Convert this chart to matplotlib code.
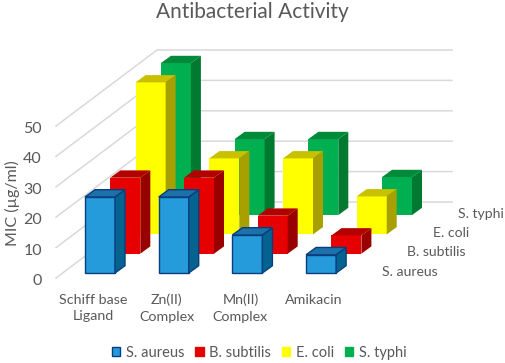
import matplotlib
matplotlib.use('Agg')
import matplotlib.pyplot as plt
from matplotlib.patches import Polygon, Patch

plt.rcParams['font.family'] = ['Lato', 'DejaVu Sans']

categories = ['Schiff base\nLigand', 'Zn(II)\nComplex', 'Mn(II)\nComplex', 'Amikacin']
series_names = ['S. aureus', 'B. subtilis', 'E. coli', 'S. typhi']
s_aureus = [25, 25, 12.5, 6]
b_subtilis = [25, 25, 12.5, 6]
e_coli = [50, 25, 25, 12.5]
s_typhi = [50, 25, 25, 12.5]
value_ticks = [0, 10, 20, 30, 40, 50]

# front, side, top colours per series
BAR_COLORS = [
    ('#259BDB', '#05648F', '#1C72A8'),
    ('#E60000', '#990000', '#B30000'),
    ('#FFFF00', '#A8A000', '#C9C000'),
    ('#00B050', '#007A30', '#008A3A'),
]
TEXT_COLOR = '#595959'
GRID_COLOR = '#D9D9D9'
BLUE_EDGE = '#0A3D80'

# oblique layout, x in category steps and y in MIC units
W, H = 505, 363
CAT_PX = 73.7
VAL_PX = 3.04
X0_PX = 85
Y0_PX = 273
BAR_W = 30 / CAT_PX
DEPTH_X = 10 / CAT_PX
DEPTH_Y = 7.3 / VAL_PX
STEP_X = 25.3 / CAT_PX
STEP_Y = 19.3 / VAL_PX


def draw_bar(ax, x, base, value, colors, edge):
    front, side, top = colors
    kw = dict(closed=True, linewidth=1.0 if edge else 0, edgecolor=edge if edge else 'none')
    ax.add_patch(Polygon([(x, base), (x + BAR_W, base), (x + BAR_W, base + value), (x, base + value)],
                         facecolor=front, **kw))
    ax.add_patch(Polygon([(x + BAR_W, base), (x + BAR_W + DEPTH_X, base + DEPTH_Y),
                          (x + BAR_W + DEPTH_X, base + value + DEPTH_Y), (x + BAR_W, base + value)],
                         facecolor=side, **kw))
    ax.add_patch(Polygon([(x, base + value), (x + BAR_W, base + value),
                          (x + BAR_W + DEPTH_X, base + value + DEPTH_Y), (x + DEPTH_X, base + value + DEPTH_Y)],
                         facecolor=top, **kw))


fig = plt.figure(figsize=(W / 100, H / 100), dpi=100)
ax = fig.add_axes([0, 0, 1, 1])
ax.set_xlim(-X0_PX / CAT_PX, (W - X0_PX) / CAT_PX)
ax.set_ylim(-(H - Y0_PX) / VAL_PX, Y0_PX / VAL_PX)
ax.axis('off')

# gridlines on the left wall and back wall
wall_front_x = (56 - X0_PX) / CAT_PX
wall_back_x = (157 - X0_PX) / CAT_PX
wall_end_x = (452 - X0_PX) / CAT_PX
front_base = -5 / VAL_PX
back_base = 71 / VAL_PX
for v in value_ticks:
    ax.plot([wall_front_x, wall_back_x, wall_end_x],
            [front_base + v, back_base + v, back_base + v],
            color=GRID_COLOR, linewidth=1.1, zorder=1, solid_joinstyle='miter')
    ax.text((42 - X0_PX) / CAT_PX, front_base + v - 3 / VAL_PX, str(v), color=TEXT_COLOR, fontsize=11.5,
            ha='right', va='center')

all_series = [s_aureus, b_subtilis, e_coli, s_typhi]
for s in range(3, -1, -1):
    for c, value in enumerate(all_series[s]):
        draw_bar(ax, c + s * STEP_X, s * STEP_Y, value, BAR_COLORS[s], BLUE_EDGE if s == 0 else None)

for c, name in enumerate(categories):
    ax.text(c + (93 - X0_PX) / CAT_PX, -20.5 / VAL_PX, name, color=TEXT_COLOR, fontsize=10.3,
            ha='center', va='top', linespacing=1.5)

for s, name in enumerate(series_names):
    ax.text((382 - X0_PX) / CAT_PX + s * STEP_X, 1.5 / VAL_PX + s * STEP_Y, name, color=TEXT_COLOR,
            fontsize=10.1, ha='left', va='center')

ax.text((12 - X0_PX) / CAT_PX, (Y0_PX - 203) / VAL_PX, 'MIC (µg/ml)', color=TEXT_COLOR, fontsize=11.5,
        rotation=90, ha='center', va='center')

fig.text(252 / W, 1 - 12 / H, 'Antibacterial Activity', color=TEXT_COLOR, fontsize=15, ha='center', va='center')

handles = [Patch(facecolor=BAR_COLORS[i][0], edgecolor=BLUE_EDGE if i == 0 else BAR_COLORS[i][0], label=series_names[i])
           for i in range(4)]
fig.legend(handles=handles, ncol=4, loc='center', bbox_to_anchor=(259 / W, 1 - 353 / H), frameon=False,
           fontsize=10.5, labelcolor=TEXT_COLOR, handlelength=0.6, handleheight=0.6, handletextpad=0.35,
           columnspacing=0.75, borderpad=0, borderaxespad=0)

fig.savefig('out.png', dpi=100)
